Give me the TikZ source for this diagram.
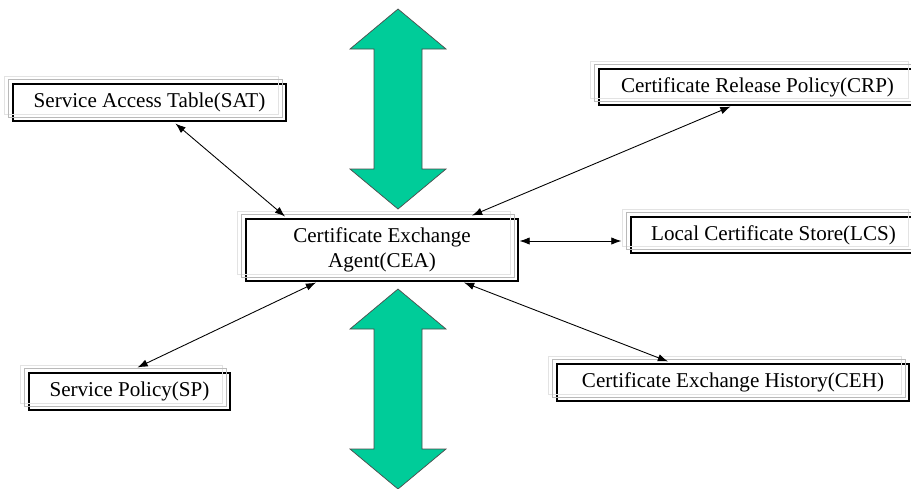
\documentclass[tikz,border=0pt]{standalone}
\usepackage{fontspec}
\setmainfont{Liberation Serif}
\usetikzlibrary{arrows.meta}
\definecolor{flowgreen}{RGB}{0,204,153}
\tikzset{
  unit/.style={draw=black,line width=0.6pt,inner sep=0pt,align=center,
    font=\fontsize{12}{14.2}\selectfont},
  link/.style={line width=0.5pt,{Latex[length=5.8pt,width=4.2pt]}-{Latex[length=5.8pt,width=4.2pt]}},
  flow/.style={draw=black!70,line width=0.4pt,fill=flowgreen}
}
\begin{document}
\begin{tikzpicture}[x=0.2mm,y=-0.2mm]
\useasboundingbox (0,0) rectangle (911,488);

% data flow
\foreach \dy in {0,280}
  \filldraw[flow] (398,9+\dy) -- (446,49+\dy) -- (422,49+\dy) -- (422,169+\dy)
    -- (446,169+\dy) -- (398,209+\dy) -- (350,169+\dy) -- (374,169+\dy)
    -- (374,49+\dy) -- (350,49+\dy) -- cycle;

% agent and its stores
\node[unit,minimum width=54.4mm,minimum height=12.4mm] (cea) at (382,250) {Certificate Exchange\\Agent(CEA)};
\node[unit,minimum width=54.6mm,minimum height=7.4mm] (sat) at (149.5,102.5) {Service Access Table(SAT)};
\node[unit,minimum width=63.4mm,minimum height=7.2mm] (crp) at (757.5,87) {Certificate Release Policy(CRP)};
\node[unit,minimum width=57mm,minimum height=7.2mm] (lcs) at (773.5,235) {Local Certificate Store(LCS)};
\node[unit,minimum width=40.2mm,minimum height=7.4mm] (sp) at (129.5,391.5) {Service Policy(SP)};
\node[unit,minimum width=70.4mm,minimum height=7.4mm] (ceh) at (733,382.5) {Certificate Exchange History(CEH)};

% frame copies
\foreach \n in {cea,sat,crp,lcs,sp,ceh} {
  \draw[gray!22,line width=0.6pt] ([shift={(-8,-7)}]\n.north west) rectangle ([shift={(-8,-7)}]\n.south east);
  \draw[gray!55,line width=0.5pt] ([shift={(-4,-4)}]\n.north west) rectangle ([shift={(-4,-4)}]\n.south east);
}

% links
\draw[link] ([shift={(26,2)}]sat.south) -- ([shift={(-97,-2)}]cea.north);
\draw[link] ([shift={(-27,1)}]crp.south) -- ([shift={(90,-3)}]cea.north);
\draw[link] ([shift={(1,-9)}]cea.east) -- ([shift={(-9,-9)}]cea.east -| lcs.west);
\draw[link] ([shift={(-66,1)}]cea.south) -- ([shift={(8,-5)}]sp.north);
\draw[link] ([shift={(82,1)}]cea.south) -- ([shift={(-65,-2)}]ceh.north);

\end{tikzpicture}
\end{document}
